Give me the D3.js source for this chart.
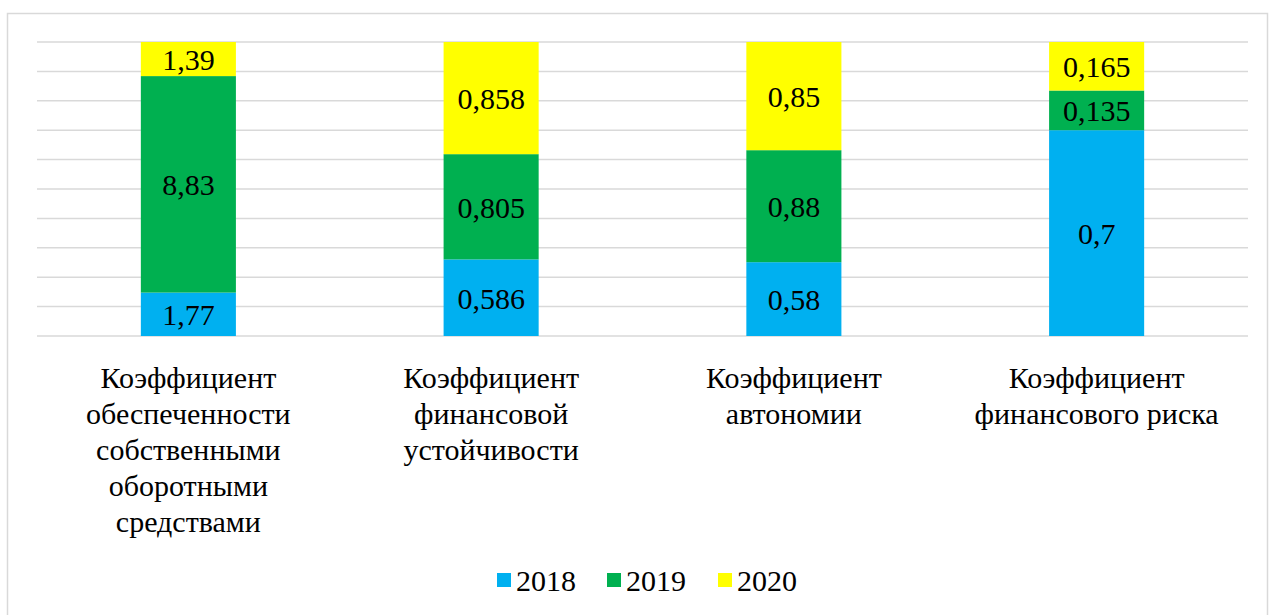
<!DOCTYPE html>
<html>
<head>
<meta charset="utf-8">
<script src="https://cdn.jsdelivr.net/npm/d3@7"></script>
</head>
<body style="margin:0;background:#fff">
<svg id="chart" width="1269" height="615" style="display:block"></svg>
<script>
// chart data
const categories = [
    ["Коэффициент", "обеспеченности", "собственными", "оборотными", "средствами"],
    ["Коэффициент", "финансовой", "устойчивости"],
    ["Коэффициент", "автономии"],
    ["Коэффициент", "финансового риска"]
];
const years = ["2018", "2019", "2020"];
const values2018 = [1.77, 0.586, 0.58, 0.7];
const values2019 = [8.83, 0.805, 0.88, 0.135];
const values2020 = [1.39, 0.858, 0.85, 0.165];
const colors = ["#00b0f0", "#00b050", "#ffff00"];
const gridTicks = [0, 0.1, 0.2, 0.3, 0.4, 0.5, 0.6, 0.7, 0.8, 0.9, 1];

const fontFamily = "Liberation Serif";
const fontSize = 30;
const svg = d3.select("#chart");
const margin = { top: 42, left: 37, right: 21, bottom: 279 };
const width = 1269 - margin.left - margin.right;
const height = 615 - margin.top - margin.bottom;

// serif text, like the Times font of the original
function serif(sel) {
    return sel.attr("font-family", fontFamily)
        .attr("font-size", fontSize)
        .attr("fill", "#000");
}

function draw() {
    svg.selectAll("*").remove();

    // outer chart border (runs off the bottom like in the picture)
    svg.append("rect")
        .attr("x", 7.5).attr("y", 13.5)
        .attr("width", 1260).attr("height", 640)
        .attr("fill", "none")
        .attr("stroke", "#d9d9d9")
        .attr("stroke-width", 1.5);

    const g = svg.append("g").attr("transform", `translate(${margin.left},${margin.top})`);

    // rows for the 100% stack
    const rows = categories.map((c, i) => ({
        idx: i,
        "2018": values2018[i],
        "2019": values2019[i],
        "2020": values2020[i]
    }));
    const stacked = d3.stack().keys(years).offset(d3.stackOffsetExpand)(rows);

    const x = d3.scaleBand()
        .domain(rows.map(d => d.idx))
        .range([0, width])
        .paddingInner(0.686)
        .paddingOuter(0.343);

    const y = d3.scaleLinear().domain([0, 1]).range([height, 0]);

    // gridlines
    g.append("g")
        .selectAll("line")
        .data(gridTicks)
        .join("line")
        .attr("x1", 0).attr("x2", width)
        .attr("y1", d => y(d)).attr("y2", d => y(d))
        .attr("stroke", "#d9d9d9")
        .attr("stroke-width", 1.5);

    // bars
    const layers = g.selectAll(".layer")
        .data(stacked)
        .join("g")
        .attr("class", "layer")
        .attr("fill", (d, i) => colors[i]);

    layers.selectAll("rect")
        .data(d => d)
        .join("rect")
        .attr("x", d => x(d.data.idx))
        .attr("width", x.bandwidth())
        .attr("y", d => y(d[1]))
        .attr("height", d => y(d[0]) - y(d[1]));

    // value labels
    layers.selectAll("text")
        .data(d => d.map(s => ({ s, key: d.key })))
        .join("text")
        .attr("x", d => x(d.s.data.idx) + x.bandwidth() / 2)
        .attr("y", d => (y(d.s[0]) + y(d.s[1])) / 2 + 11)
        .attr("text-anchor", "middle")
        .call(serif)
        .text(d => String(d.s.data[d.key]).replace(".", ","));

    // category labels
    const catG = g.append("g").attr("transform", `translate(0,${height})`);
    catG.selectAll("text")
        .data(rows)
        .join("text")
        .attr("text-anchor", "middle")
        .call(serif)
        .each(function (d) {
            const t = d3.select(this);
            categories[d.idx].forEach((line, j) => {
                t.append("tspan")
                    .attr("x", x(d.idx) + x.bandwidth() / 2)
                    .attr("y", 52 + j * 36)
                    .text(line);
            });
        });

    // legend
    const legendX = [497, 607, 718];
    const legend = svg.append("g").attr("transform", "translate(0,580)");
    const items = legend.selectAll("g")
        .data(years)
        .join("g")
        .attr("transform", (d, i) => `translate(${legendX[i]},0)`);
    items.append("rect")
        .attr("x", 0).attr("y", -7)
        .attr("width", 14).attr("height", 14)
        .attr("fill", (d, i) => colors[i]);
    items.append("text")
        .attr("x", 19).attr("y", 11)
        .call(serif)
        .text(d => d);
}

draw();
// redraw once the serif face is really loaded
if (document.fonts && document.fonts.load) {
    document.fonts.load(`${fontSize}px "${fontFamily}"`, "Коэффициент 0,123456789").then(draw);
}
</script>
</body>
</html>
